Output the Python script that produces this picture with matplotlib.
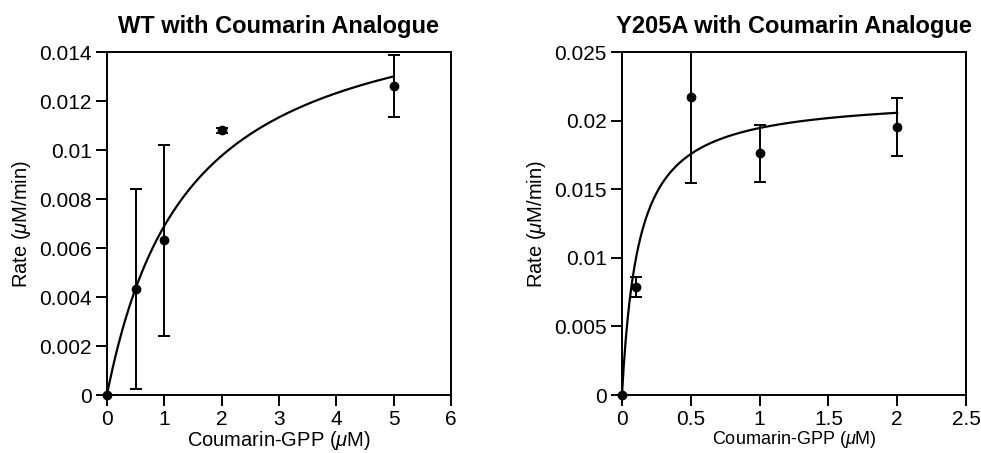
import numpy as np
import matplotlib
matplotlib.use("Agg")
from matplotlib import pyplot as plt

plt.rcParams['font.family'] = ['Liberation Sans', 'DejaVu Sans']
plt.rcParams['mathtext.fontset'] = 'custom'
plt.rcParams['mathtext.it'] = 'Liberation Sans:italic'
plt.rcParams['mathtext.rm'] = 'Liberation Sans'

# WT data
wt_x = [0, 0.5, 1, 2, 5]
wt_y = [0, 0.00432, 0.00632, 0.0108, 0.01262]
wt_err = [0, 0.00408, 0.0039, 0.0001, 0.00125]
wt_vmax = 0.0167
wt_km = 1.42

# Y205A data
mut_x = [0, 0.1, 0.5, 1, 2]
mut_y = [0, 0.00785, 0.02174, 0.01761, 0.01953]
mut_err = [0, 0.00073, 0.0063, 0.0021, 0.0021]
mut_vmax = 0.02182
mut_km = 0.121


def draw(ax, x, y, err, vmax, km, xmax, title, xticks, xticklabels, yticks, yticklabels, xlab_size):
    xs = np.linspace(0, max(x), 300)
    ax.plot(xs, vmax * xs / (km + xs), color='black', lw=1.6, zorder=3)
    # origin point sits on the corner, don't clip it
    ax.plot(x[:1], y[:1], 'o', color='black', ms=6, zorder=5, clip_on=False)
    ax.errorbar(x[1:], y[1:], yerr=err[1:], fmt='o', color='black', ms=6, elinewidth=1.4,
                capsize=4, capthick=1.4, zorder=4)
    ax.set_xlim(0, xmax)
    ax.set_ylim(yticks[0], yticks[-1])
    ax.set_xticks(xticks)
    ax.set_xticklabels(xticklabels)
    ax.set_yticks(yticks)
    ax.set_yticklabels(yticklabels)
    ax.tick_params(direction='out', length=8, width=1.4, labelsize=15, pad=3)
    for s in ax.spines.values():
        s.set_linewidth(1.4)
    ax.set_title(title, fontsize=17, fontweight='bold', pad=14)
    ax.set_xlabel(r"Coumarin-GPP ($\mathit{\mu}$M)", fontsize=xlab_size, labelpad=0)
    ax.set_ylabel(r"Rate ($\mathit{\mu}$M/min)", fontsize=14.5)


fig = plt.figure(figsize=(9.81, 4.53), dpi=100)
ax1 = fig.add_axes([0.109, 0.128, 0.3507, 0.757])
ax2 = fig.add_axes([0.634, 0.128, 0.3507, 0.757])

draw(ax1, wt_x, wt_y, wt_err, wt_vmax, wt_km, 6, "WT with Coumarin Analogue",
     [0, 1, 2, 3, 4, 5, 6], ['0', '1', '2', '3', '4', '5', '6'],
     [0, 0.002, 0.004, 0.006, 0.008, 0.01, 0.012, 0.014],
     ['0', '0.002', '0.004', '0.006', '0.008', '0.01', '0.012', '0.014'], 14.5)
draw(ax2, mut_x, mut_y, mut_err, mut_vmax, mut_km, 2.5, "Y205A with Coumarin Analogue",
     [0, 0.5, 1, 1.5, 2, 2.5], ['0', '0.5', '1', '1.5', '2', '2.5'],
     [0, 0.005, 0.01, 0.015, 0.02, 0.025],
     ['0', '0.005', '0.01', '0.015', '0.02', '0.025'], 13)

plt.savefig("out.png", dpi=100)
